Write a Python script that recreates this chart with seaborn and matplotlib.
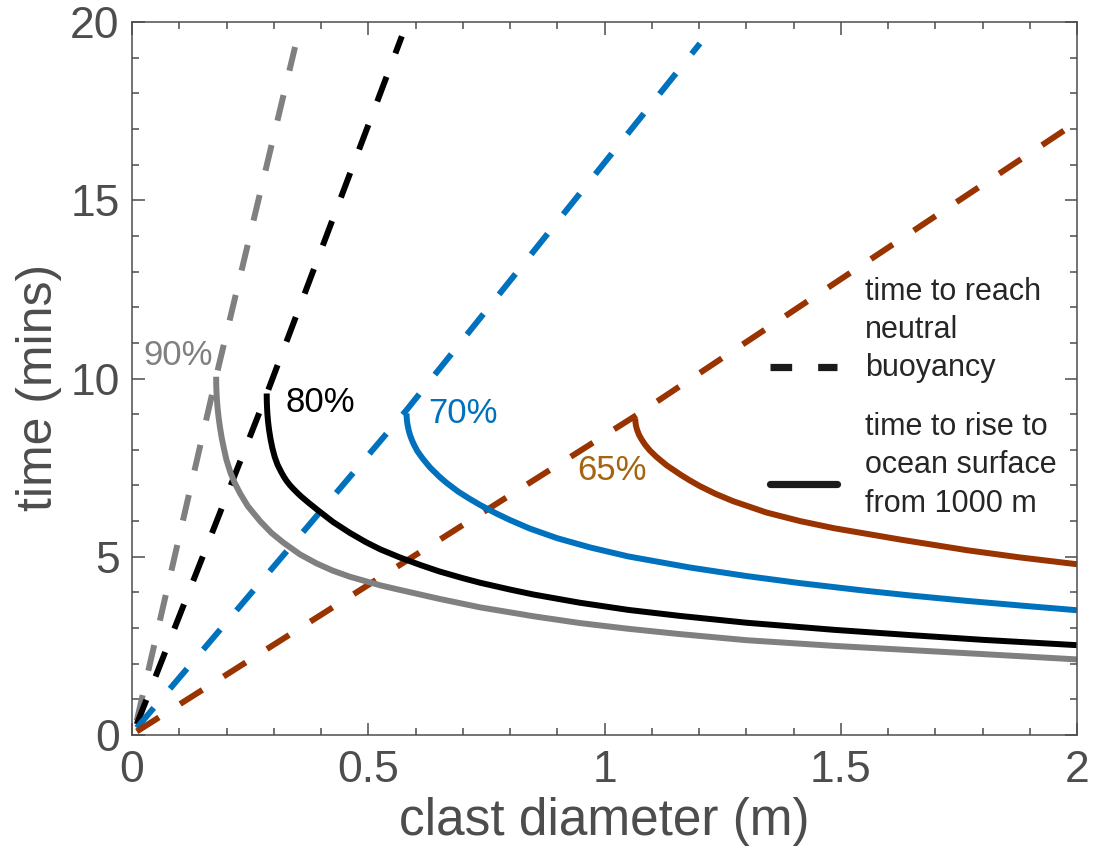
import matplotlib
matplotlib.use("Agg")
import matplotlib.pyplot as plt
from matplotlib.lines import Line2D
from matplotlib.legend_handler import HandlerLine2D
from matplotlib.ticker import MultipleLocator
import seaborn as sns
import pandas as pd

# ---------------- data ----------------
# time to reach neutral buoyancy (dashed)
d_dash_90 = [0.01, 0.178, 0.345]
t_dash_90 = [0.4, 10.05, 19.3]
d_dash_80 = [0.01, 0.286, 0.571]
t_dash_80 = [0.3, 9.6, 19.6]
d_dash_70 = [0.01, 0.58, 1.202]
t_dash_70 = [0.2, 9.1, 19.4]
d_dash_65 = [0.01, 1.065, 2.0]
t_dash_65 = [0.1, 8.95, 17.2]

# time to rise to ocean surface from 1000 m (solid)
d_rise_90 = [0.178, 0.1782, 0.1787, 0.1795, 0.181, 0.183, 0.186, 0.190, 0.195, 0.200,
             0.208, 0.217, 0.229, 0.245, 0.271, 0.295, 0.320, 0.355, 0.391, 0.425,
             0.461, 0.525, 0.567, 0.65, 0.737, 0.85, 0.948, 1.05, 1.16, 1.3,
             1.486, 1.65, 1.8, 2.0]
t_rise_90 = [10.05, 9.83, 9.63, 9.44, 9.18, 8.93, 8.64, 8.32, 8.00, 7.71,
             7.37, 7.08, 6.77, 6.42, 6.00, 5.67, 5.40, 5.07, 4.81, 4.61,
             4.44, 4.20, 4.07, 3.82, 3.58, 3.33, 3.14, 2.98, 2.83, 2.66,
             2.50, 2.38, 2.27, 2.12]
d_rise_80 = [0.285, 0.2852, 0.2857, 0.2865, 0.288, 0.290, 0.293, 0.297, 0.302, 0.308,
             0.316, 0.322, 0.327, 0.334, 0.341, 0.350, 0.358, 0.375, 0.391, 0.425,
             0.461, 0.495, 0.525, 0.567, 0.61, 0.65, 0.70, 0.737, 0.80, 0.85,
             0.948, 1.05, 1.16, 1.3, 1.486, 1.65, 1.8, 2.0]
t_rise_80 = [9.58, 9.37, 9.19, 9.00, 8.78, 8.56, 8.31, 8.05, 7.80, 7.58,
             7.37, 7.23, 7.13, 7.01, 6.91, 6.79, 6.69, 6.50, 6.33, 5.98,
             5.67, 5.41, 5.21, 4.98, 4.77, 4.59, 4.40, 4.27, 4.08, 3.94,
             3.71, 3.51, 3.34, 3.15, 2.95, 2.80, 2.67, 2.52]
d_rise_70 = [0.581, 0.5812, 0.5817, 0.5825, 0.584, 0.586, 0.589, 0.593, 0.598, 0.604,
             0.616, 0.631, 0.651, 0.666, 0.69, 0.712, 0.737, 0.77, 0.80, 0.842,
             0.90, 0.97, 1.05, 1.18, 1.30, 1.414, 1.55, 1.65, 1.769, 1.9, 2.0]
t_rise_70 = [9.02, 8.92, 8.83, 8.75, 8.64, 8.52, 8.39, 8.25, 8.11, 7.96,
             7.74, 7.50, 7.24, 7.07, 6.83, 6.645, 6.45, 6.22, 6.03, 5.79,
             5.52, 5.26, 5.01, 4.70, 4.46, 4.26, 4.05, 3.91, 3.76, 3.61, 3.50]
d_rise_65 = [1.065, 1.0652, 1.0657, 1.0665, 1.068, 1.070, 1.073, 1.078, 1.086, 1.096,
             1.11, 1.132, 1.16, 1.18, 1.202, 1.235, 1.272, 1.343, 1.414, 1.486,
             1.627, 1.769, 1.88, 2.0]
t_rise_65 = [8.88, 8.81, 8.75, 8.68, 8.60, 8.52, 8.42, 8.30, 8.14, 7.98,
             7.80, 7.56, 7.31, 7.145, 6.98, 6.765, 6.56, 6.24, 6.00, 5.80,
             5.48, 5.18, 4.98, 4.79]

labels = ["90%", "80%", "70%", "65%"]
label_d = [0.097, 0.398, 0.70, 1.016]
label_t = [10.65, 9.33, 9.03, 7.43]

x_ticks = [0, 0.5, 1, 1.5, 2]
x_ticklabels = ["0", "0.5", "1", "1.5", "2"]
y_ticks = [0, 5, 10, 15, 20]
y_ticklabels = ["0", "5", "10", "15", "20"]

legend_labels = ["time to reach\nneutral\nbuoyancy",
                 "time to rise to\nocean surface\nfrom 1000 m"]

# ---------------- styling ----------------
line_colors = ["#808080", "#000000", "#0072BD", "#993300"]
label_colors = ["#808080", "#000000", "#0072BD", "#A5640F"]
axis_gray = "#4D4D4D"

sns.set_theme(style="ticks")
plt.rcParams["font.family"] = ["Liberation Sans", "DejaVu Sans"]

fig = plt.figure(figsize=(10.93, 8.64), dpi=100)
ax = fig.add_axes([0.1208, 0.1493, 0.8646, 0.8252])

LW = 4.3
DASH = (0, (4.4, 4.2))

dash_sets = [(d_dash_90, t_dash_90), (d_dash_80, t_dash_80),
             (d_dash_70, t_dash_70), (d_dash_65, t_dash_65)]
rise_sets = [(d_rise_90, t_rise_90), (d_rise_80, t_rise_80),
             (d_rise_70, t_rise_70), (d_rise_65, t_rise_65)]

for (dx, ty), c in zip(dash_sets, line_colors):
    df = pd.DataFrame({"d": dx, "t": ty})
    sns.lineplot(data=df, x="d", y="t", color=c, linewidth=LW, linestyle=DASH,
                 ax=ax, sort=False, estimator=None)

for (dx, ty), c in zip(rise_sets, line_colors):
    df = pd.DataFrame({"d": dx, "t": ty})
    sns.lineplot(data=df, x="d", y="t", color=c, linewidth=LW,
                 ax=ax, sort=False, estimator=None,
                 solid_capstyle="butt", solid_joinstyle="round")

for lab, x, y, c in zip(labels, label_d, label_t, label_colors):
    ax.text(x, y, lab, color=c, fontsize=25, ha="center", va="center")

ax.set_xlim(0, 2)
ax.set_ylim(0, 20)
ax.set_xticks(x_ticks)
ax.set_xticklabels(x_ticklabels)
ax.set_yticks(y_ticks)
ax.set_yticklabels(y_ticklabels)
ax.xaxis.set_minor_locator(MultipleLocator(0.1))
ax.yaxis.set_minor_locator(MultipleLocator(1))
ax.tick_params(which="both", direction="in", top=True, right=True,
               color=axis_gray, width=1.1)
ax.tick_params(which="major", length=9)
ax.tick_params(which="minor", length=5)
ax.tick_params(axis="x", which="major", labelsize=32, labelcolor=axis_gray, pad=11)
ax.tick_params(axis="y", which="major", labelsize=32, labelcolor=axis_gray, pad=9)
for s in ax.spines.values():
    s.set_visible(True)
    s.set_color(axis_gray)
    s.set_linewidth(1.1)

ax.set_xlabel("clast diameter (m)", fontsize=37, color=axis_gray, labelpad=4)
ax.set_ylabel("time (mins)", fontsize=36, color=axis_gray, labelpad=6)
ax.yaxis.label.set_y(0.487)


class LoweredLineHandler(HandlerLine2D):
    """Legend line handler that places the sample line lower in its box."""

    def __init__(self, drop_pts, **kw):
        super().__init__(**kw)
        self.drop_pts = drop_pts

    def create_artists(self, legend, orig_handle, xdescent, ydescent,
                       width, height, fontsize, trans):
        return super().create_artists(legend, orig_handle, xdescent,
                                      ydescent + 2 * self.drop_pts,
                                      width, height, fontsize, trans)


h_dash = Line2D([], [], color="k", linewidth=5.2, linestyle=(0, (3.0, 3.6)))
h_solid = Line2D([], [], color="k", linewidth=5.2)
leg = ax.legend([h_dash, h_solid], legend_labels, fontsize=22, frameon=False,
                loc="upper left", bbox_to_anchor=(0.675, 0.643),
                borderaxespad=0, borderpad=0, handlelength=2.2, handletextpad=0.9,
                labelspacing=0.95,
                handler_map={h_dash: LoweredLineHandler(26),
                             h_solid: LoweredLineHandler(12.5)})
for t in leg.get_texts():
    t.set_linespacing(1.36)

fig.savefig("out.png", dpi=100)
